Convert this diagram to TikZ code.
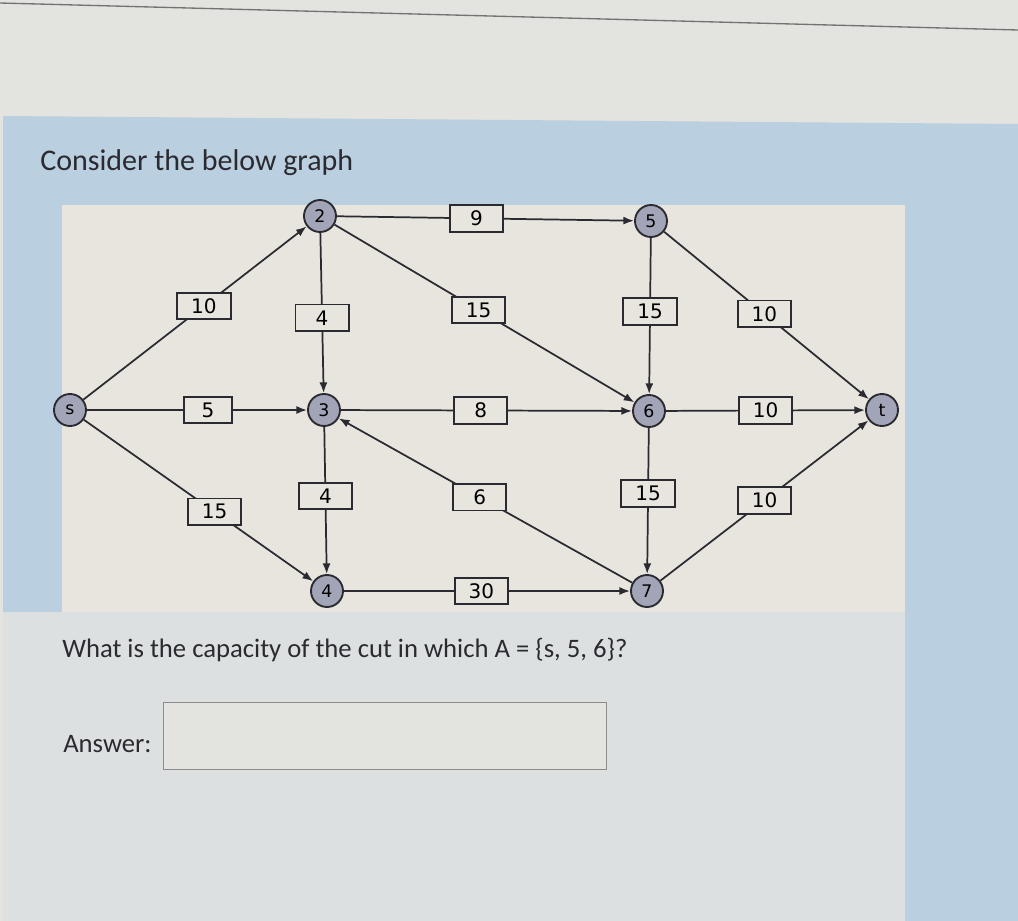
\documentclass[tikz,border=0pt]{standalone}
\usepackage{fontspec}
\setmainfont{Carlito}
\newfontfamily\graphfont{DejaVu Sans}
\usetikzlibrary{arrows.meta}
\definecolor{screengrey}{HTML}{E3E3E0}
\definecolor{panelblue}{HTML}{BACFDF}
\definecolor{graphbg}{HTML}{E8E5DE}
\definecolor{lowerbg}{HTML}{DCE0E0}
\definecolor{vertexgrey}{HTML}{A2A4B8}
\definecolor{inkgrey}{HTML}{2A2A30}

\begin{document}
\begin{tikzpicture}[x=0.75pt,y=-0.75pt,
  vertex/.style={circle,draw=inkgrey,fill=vertexgrey,line width=1.4pt,minimum size=24pt,inner sep=0pt,font=\graphfont\fontsize{13}{13}\selectfont},
  capbox/.style={draw=inkgrey,fill=graphbg,line width=1.4pt,minimum width=40pt,minimum height=20pt,inner sep=0pt,font=\graphfont\fontsize{15}{15}\selectfont},
  flow/.style={draw=inkgrey,line width=1.3pt,-{Latex[length=8pt,width=6pt]}},
  prose/.style={anchor=base west,inner sep=0pt,text=inkgrey,font=\fontsize{20}{20}\selectfont}]
\useasboundingbox (0,0) rectangle (1018,921);
% screen and panels
\fill[screengrey] (0,0) rectangle (1018,921);
\draw[black!55,line width=1pt] (0,3) -- (1018,30);
\fill[panelblue] (3,116) -- (1018,124) -- (1018,921) -- (3,921) -- cycle;
\fill[lowerbg] (3,612) rectangle (905,921);
\fill[graphbg] (62,205) rectangle (905,612);

\node[prose,font=\fontsize{22.5}{22.5}\selectfont] (title) at (40,170) {Consider the below graph};

% vertices
\node[vertex] (s) at (70,410) {s};
\node[vertex] (n2) at (320,216) {2};
\node[vertex] (n3) at (324,410) {3};
\node[vertex] (n4) at (327,591) {4};
\node[vertex] (n5) at (651,221) {5};
\node[vertex] (n6) at (649,411) {6};
\node[vertex] (n7) at (647,591) {7};
\node[vertex] (t) at (882,410) {t};

% edges with capacities
\draw[flow] (s) -- node[capbox,pos=0.54] {10} (n2);
\draw[flow] (s) -- node[capbox,pos=0.55,minimum width=36pt] {5} (n3);
\draw[flow] (s) -- node[capbox,pos=0.57] {15} (n4);
\draw[flow] (n2) -- node[capbox,pos=0.47] {9} (n5);
\draw[flow] (n2) -- node[capbox,pos=0.53] {4} (n3);
\draw[flow] (n2) -- node[capbox,pos=0.48] {15} (n6);
\draw[flow] (n3) -- node[capbox,pos=0.48] {8} (n6);
\draw[flow] (n3) -- node[capbox,pos=0.47] {4} (n4);
\draw[flow] (n7) -- node[capbox,pos=0.52] {6} (n3);
\draw[flow] (n4) -- node[capbox,pos=0.48] {30} (n7);
\draw[flow] (n5) -- node[capbox,pos=0.47] {15} (n6);
\draw[flow] (n5) -- node[capbox,pos=0.49] {10} (t);
\draw[flow] (n6) -- node[capbox,pos=0.50] {10} (t);
\draw[flow] (n6) -- node[capbox,pos=0.45] {15} (n7);
\draw[flow] (n7) -- node[capbox,pos=0.50] {10} (t);

% question
\node[prose] (question) at (62,657) {What is the capacity of the cut in which A = \{s, 5, 6\}?};
\node[prose] (answer) at (63,752) {Answer:};
\node[draw=black!45,fill=graphbg!60!lowerbg,line width=0.8pt,anchor=west,minimum width=332pt,minimum height=50pt] (answerbox) at (163,736) {};
\end{tikzpicture}
\end{document}
